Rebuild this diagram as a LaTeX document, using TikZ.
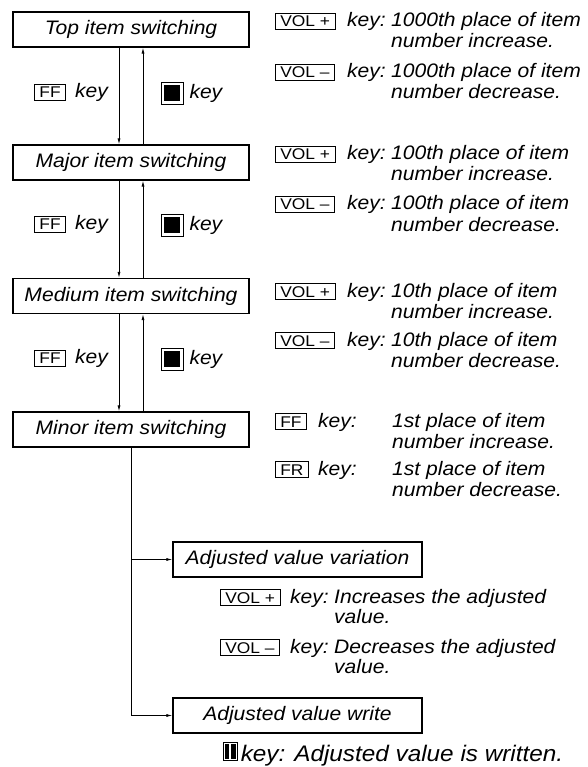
\documentclass[tikz,border=0pt]{standalone}
\usepackage{fontspec}
\setmainfont{Liberation Sans}[FakeStretch=1.08]
\newfontfamily\keyfont{Liberation Sans}[FakeStretch=1.12]
\usetikzlibrary{positioning,arrows.meta}

\begin{document}
\begin{tikzpicture}[x=1pt,y=-1pt,
    stage/.style={draw,line width=1.2pt,minimum width=236pt,minimum height=35pt,inner sep=0pt,font=\fontsize{19.5}{21}\selectfont\itshape},
    keybox/.style={draw,line width=0.6pt,inner xsep=5pt,inner ysep=2.4pt,text height=11pt,text depth=0pt,font=\keyfont\fontsize{15.5}{17}\selectfont},
    txt/.style={inner sep=0pt,font=\fontsize{19.5}{21}\selectfont\itshape},
    flow/.style={line width=0.8pt,-{Latex[length=6pt,width=3pt]}}]
  \useasboundingbox (0,0) rectangle (587,767);

  % stages
  \node[stage] (top) at (131,29.5) {Top item switching};
  \node[stage] (major) at (131,162.5) {Major item switching};
  \node[stage] (medium) at (131,296) {Medium item switching};
  \node[stage] (minor) at (131,429.5) {Minor item switching};
  \node[stage,minimum width=249pt] (var) at (297.5,559.5) {Adjusted value variation};
  \node[stage,minimum width=249pt] (write) at (297.5,715.5) {Adjusted value write};

  % down and up
  \foreach \a/\b in {top/major,major/medium,medium/minor}{
    \draw[flow] ([xshift=-12pt]\a.south) -- ([xshift=-12pt]\b.north);
    \draw[flow] ([xshift=12pt]\b.north) -- ([xshift=12pt]\a.south);
  }
  \foreach \y/\n in {92/1,224/2,358/3}{
    \node[keybox] (ff\n) at (50,\y) {FF};
    \node[txt,anchor=base west] at ([xshift=9pt]ff\n.base east) {key};
    \node[draw,line width=0.6pt,inner sep=3pt] (stop\n) at (172,\y+1) {\rule{16pt}{16pt}};
    \node[txt,right=6pt of stop\n] {key};
  }

  % keys on the right
  \foreach \y/\k/\p/\w in {27/VOL +/1000th/increase,78/VOL –/1000th/decrease,
      160/VOL +/100th/increase,210/VOL –/100th/decrease,
      297/VOL +/10th/increase,346/VOL –/10th/decrease}{
    \node[keybox,anchor=base west] at (275,\y) {\k};
    \node[txt,anchor=base west] at (347,\y) {key:};
    \node[txt,anchor=base west] at (391,\y) {\p\ place of item};
    \node[txt,anchor=base west] at (391,\y+21) {number \w.};
  }
  \foreach \y/\k/\w in {427/FF/increase,475/FR/decrease}{
    \node[keybox,anchor=base west] at (275,\y) {\k};
    \node[txt,anchor=base west] at (318,\y) {key:};
    \node[txt,anchor=base west] at (392,\y) {1st place of item};
    \node[txt,anchor=base west] at (392,\y+21) {number \w.};
  }

  % adjusting
  \draw[flow] (minor.south) |- (var.west);
  \draw[flow] (minor.south) |- (write.west);
  \foreach \y/\k/\w in {603/VOL +/Increases,653/VOL –/Decreases}{
    \node[keybox,anchor=base west] at (220,\y) {\k};
    \node[txt,anchor=base west] at (290,\y) {key:};
    \node[txt,anchor=base west] at (334,\y) {\w\ the adjusted};
    \node[txt,anchor=base west] at (334,\y+20) {value.};
  }
  \node[draw,line width=0.6pt,inner sep=1.5pt,anchor=south west] (pause) at (223,761) {\rule{4.5pt}{15pt}\hspace{2pt}\rule{4.5pt}{15pt}};
  \node[txt,font=\fontsize{22.5}{26}\selectfont\itshape,anchor=base west] at ([xshift=3pt]pause.south east) {key: Adjusted value is written.};
\end{tikzpicture}
\end{document}
